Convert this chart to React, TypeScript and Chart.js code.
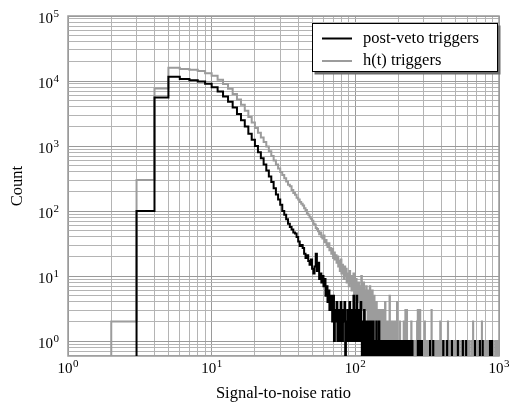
import { useEffect, useRef } from 'react';
import { Chart, registerables } from 'chart.js';

Chart.register(...registerables);

// ---------- data ----------
const SERIES_LABELS = ['post-veto triggers', 'h(t) triggers'];
const SERIES_COLORS = ['#000000', '#9c9c9c'];

const X_MIN = 1;
const X_MAX = 1000;
const Y_MIN = 0.59;
const Y_MAX = 1e5;
const X_TICK_EXPONENTS = [0, 1, 2, 3];
const Y_TICK_EXPONENTS = [0, 1, 2, 3, 4, 5];

// Unit-width histogram bins: index 0 -> bin [1,2), index 1 -> [2,3), ...
// post-veto triggers, bins 1..79
const BLACK_HEAD = [
  0, 0, 100, 5600, 11600, 10700, 10300, 9800, 9100, 8000,
  6900, 5800, 4800, 3900, 3100, 2500, 2000, 1550, 1250, 1000,
  800, 650, 520, 420, 340, 280, 225, 180, 150, 125,
  100, 88, 75, 64, 57, 52, 47, 45, 40, 34,
  29, 30, 27, 22, 19, 21, 17, 15, 18, 13,
  11, 14, 22, 12, 16, 9, 11, 8, 10, 7,
  9, 5, 7, 4, 6, 3, 5, 4, 2, 5,
  1, 3, 2, 4, 1, 3, 2, 1, 4,
];
// post-veto triggers, bins 80..249, one digit per bin
const BLACK_DENSE =
  '3132402132 1421312512 3152113214 1021031021 0210120102 1012010110 2010102101 0100110100 1010010110 ' +
  '0100010100 1001010010 0101001001 0010100010 1001001000 0100100010 0010001000 1000100001';
// post-veto triggers, isolated single counts above bin 249
const BLACK_SPARSE_BINS = [272, 282, 290, 331, 348, 409, 435, 470, 517, 560, 590, 680, 736, 770, 865, 893];
const BLACK_SPARSE_COUNTS = [1, 1, 1, 1, 1, 1, 1, 1, 1, 1, 1, 1, 1, 1, 1, 1];

// h(t) triggers, bins 1..139
const GRAY_HEAD = [
  0, 2, 300, 7700, 16000, 15300, 14900, 14200, 13200, 12000,
  10500, 9000, 7600, 6300, 5200, 4300, 3500, 2800, 2300, 1900,
  1600, 1350, 1150, 980, 830, 700, 600, 520, 450, 400,
  360, 320, 285, 255, 240, 210, 190, 178, 160, 150,
  138, 130, 122, 110, 104, 92, 88, 80, 76, 71,
  64, 62, 55, 53, 49, 44, 47, 40, 38, 42,
  33, 36, 30, 28, 32, 25, 27, 22, 26, 19,
  23, 18, 21, 16, 20, 14, 17, 12, 18, 11,
  15, 12, 9, 14, 10, 13, 8, 11, 9, 7,
  12, 8, 10, 6, 9, 7, 11, 5, 8, 6,
  9, 5, 7, 4, 8, 6, 3, 7, 5, 10,
  4, 6, 3, 8, 5, 2, 6, 4, 7, 3,
  5, 2, 6, 4, 3, 7, 2, 5, 3, 4,
  6, 2, 4, 3, 5, 1, 4, 2, 3,
];
// h(t) triggers, bins 140..399, one digit per bin
const GRAY_DENSE =
  '4121322113 2131221312 1401021101 0215010210 1020110201 0102041010 1010201001 0110100210 1003010130 ' +
  '0101001010 1001020100 0100101001 1001000102 0030100100 1030010010 0100100010 1000200100 0100010001 ' +
  '0010010000 1001000003 0100010000 1000100010 0000100100 1000010000 0100001000 2000100001';
// h(t) triggers, isolated counts above bin 399
const GRAY_SPARSE_BINS = [
  401, 409, 418, 426, 433, 441, 447, 458, 466, 479, 490, 503, 529, 549, 571, 580, 593, 612, 618, 641,
  660, 672, 695, 706, 731, 748, 760, 790, 815, 823, 851, 870, 899, 915, 948, 962, 991,
];
const GRAY_SPARSE_COUNTS = [
  1, 1, 1, 1, 1, 2, 1, 1, 1, 1, 1, 1, 1, 1, 1, 1, 1, 1, 1, 1,
  2, 1, 1, 1, 1, 1, 2, 1, 1, 1, 1, 1, 1, 1, 1, 1, 1,
];

// ---------- helpers ----------
const FLOOR = 0.05; // empty bins are drawn below the axis floor (clipped)
const FONT = '"Liberation Serif", "Times New Roman", serif';

function buildCounts(head: number[], dense: string, bins: number[], counts: number[]): number[] {
  const out: number[] = new Array(X_MAX - X_MIN).fill(0);
  head.forEach((c, i) => (out[i] = c));
  const digits = dense.replace(/\s/g, '');
  for (let i = 0; i < digits.length; i++) out[head.length + i] = Number(digits[i]);
  bins.forEach((b, i) => (out[b - 1] = counts[i]));
  return out;
}

function toSteps(counts: number[]) {
  const pts = counts.map((c, i) => ({ x: i + 1, y: c > 0 ? c : FLOOR }));
  const last = counts[counts.length - 1];
  pts.push({ x: X_MAX, y: last > 0 ? last : FLOOR });
  return pts;
}

function decadeTicks(minV: number, maxV: number): number[] {
  const out: number[] = [];
  const e0 = Math.floor(Math.log10(minV));
  const e1 = Math.ceil(Math.log10(maxV));
  for (let e = e0; e <= e1; e++) {
    for (let m = 1; m <= 9; m++) {
      const v = Number((m * Math.pow(10, e)).toPrecision(6));
      if (v >= minV - 1e-12 && v <= maxV + 1e-9) out.push(v);
    }
  }
  return out;
}

function isMajor(v: number) {
  const l = Math.log10(v);
  return Math.abs(l - Math.round(l)) < 1e-9;
}

function drawPow(ctx: CanvasRenderingContext2D, x: number, baseY: number, exp: number, align: 'center' | 'right') {
  ctx.textAlign = 'left';
  ctx.textBaseline = 'alphabetic';
  ctx.font = `15px ${FONT}`;
  const wb = ctx.measureText('10').width;
  ctx.font = `11px ${FONT}`;
  const we = ctx.measureText(String(exp)).width;
  const total = wb + we + 0.5;
  const start = align === 'center' ? x - total / 2 : x - total;
  ctx.font = `15px ${FONT}`;
  ctx.fillText('10', start, baseY);
  ctx.font = `11px ${FONT}`;
  ctx.fillText(String(exp), start + wb + 0.5, baseY - 6.5);
}

const framePlugin = {
  id: 'frame',
  beforeDatasetsDraw(chart: any) {
    const { ctx, chartArea: a } = chart;
    ctx.save();
    ctx.strokeStyle = '#9a9a9a';
    ctx.lineWidth = 1.5;
    ctx.strokeRect(a.left, a.top, a.right - a.left, a.bottom - a.top);
    ctx.restore();
  },
};

const textPlugin = {
  id: 'texts',
  afterDraw(chart: any) {
    const { ctx, chartArea: a, scales } = chart;
    ctx.save();
    ctx.fillStyle = '#000';
    X_TICK_EXPONENTS.forEach((e) => {
      drawPow(ctx, scales.x.getPixelForValue(Math.pow(10, e)), a.bottom + 17, e, 'center');
    });
    Y_TICK_EXPONENTS.forEach((e) => {
      drawPow(ctx, a.left - 9, scales.y.getPixelForValue(Math.pow(10, e)) + 7, e, 'right');
    });
    // axis titles
    ctx.font = `16.5px ${FONT}`;
    ctx.textAlign = 'center';
    ctx.textBaseline = 'alphabetic';
    ctx.fillText('Signal-to-noise ratio', (a.left + a.right) / 2, a.bottom + 42);
    ctx.save();
    ctx.translate(a.left - 46, (a.top + a.bottom) / 2);
    ctx.rotate(-Math.PI / 2);
    ctx.fillText('Count', 0, 0);
    ctx.restore();

    // legend
    const bw = 186;
    const bh = 49;
    const bx = a.right - 1 - bw;
    const by = a.top + 7;
    ctx.fillStyle = '#6e6e6e';
    ctx.fillRect(bx + 2.5, by + 2.5, bw, bh);
    ctx.fillStyle = '#fff';
    ctx.fillRect(bx, by, bw, bh);
    ctx.strokeStyle = '#000';
    ctx.lineWidth = 1;
    ctx.strokeRect(bx + 0.5, by + 0.5, bw - 1, bh - 1);
    chart.data.datasets.forEach((ds: any, i: number) => {
      const yy = by + 15.5 + i * 22.5;
      ctx.strokeStyle = ds.borderColor;
      ctx.lineWidth = 2;
      ctx.beginPath();
      ctx.moveTo(bx + 10, yy);
      ctx.lineTo(bx + 40, yy);
      ctx.stroke();
      ctx.fillStyle = '#000';
      ctx.font = `16.5px ${FONT}`;
      ctx.textAlign = 'left';
      ctx.textBaseline = 'middle';
      ctx.fillText(ds.label, bx + 51, yy);
    });
    ctx.restore();
  },
};

export default function App() {
  const ref = useRef<HTMLCanvasElement>(null);

  useEffect(() => {
    const black = toSteps(buildCounts(BLACK_HEAD, BLACK_DENSE, BLACK_SPARSE_BINS, BLACK_SPARSE_COUNTS));
    const gray = toSteps(buildCounts(GRAY_HEAD, GRAY_DENSE, GRAY_SPARSE_BINS, GRAY_SPARSE_COUNTS));
    const xTicks = decadeTicks(X_MIN, X_MAX);
    const yTicks = decadeTicks(0.6, Y_MAX);
    const gridColor = (c: any) => (c.tick && isMajor(c.tick.value) ? '#9a9a9a' : '#b4b4b4');

    const chart = new Chart(ref.current!, {
      type: 'line',
      data: {
        datasets: [
          {
            label: SERIES_LABELS[0],
            data: black,
            borderColor: SERIES_COLORS[0],
            borderWidth: 2,
            stepped: 'before',
            pointRadius: 0,
            fill: false,
            borderJoinStyle: 'miter',
          },
          {
            label: SERIES_LABELS[1],
            data: gray,
            borderColor: SERIES_COLORS[1],
            borderWidth: 2,
            stepped: 'before',
            pointRadius: 0,
            fill: false,
            borderJoinStyle: 'miter',
          },
        ],
      },
      options: {
        responsive: false,
        animation: false,
        events: [],
        layout: { padding: { left: 0, right: 11, top: 16, bottom: 0 } },
        plugins: { legend: { display: false }, tooltip: { enabled: false } },
        scales: {
          x: {
            type: 'logarithmic',
            min: X_MIN,
            max: X_MAX,
            afterBuildTicks: (s: any) => {
              s.ticks = xTicks.map((v) => ({ value: v }));
            },
            afterFit: (s: any) => {
              s.height = 47;
            },
            ticks: { display: false },
            grid: { color: gridColor, lineWidth: 1, drawTicks: false },
            border: { display: false },
            title: { display: false },
          },
          y: {
            type: 'logarithmic',
            min: Y_MIN,
            max: Y_MAX,
            afterBuildTicks: (s: any) => {
              s.ticks = yTicks.map((v) => ({ value: v }));
            },
            afterFit: (s: any) => {
              s.width = 68;
            },
            ticks: { display: false },
            grid: { color: gridColor, lineWidth: 1, drawTicks: false },
            border: { display: false },
            title: { display: false },
          },
        },
      } as any,
      plugins: [framePlugin, textPlugin],
    });
    return () => chart.destroy();
  }, []);

  return (
    <div style={{ position: 'fixed', left: 0, top: 0, width: 510, height: 403, background: '#fff' }}>
      <canvas ref={ref} width={510} height={403} style={{ display: 'block', width: 510, height: 403 }} />
    </div>
  );
}
